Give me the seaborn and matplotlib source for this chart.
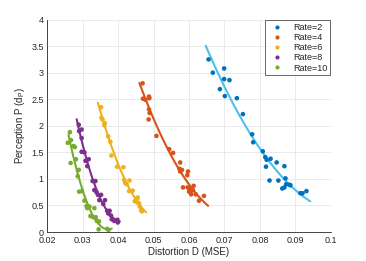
import numpy as np
import pandas as pd
import matplotlib
matplotlib.use("Agg")
import matplotlib.pyplot as plt
import seaborn as sns

rate_labels = ["Rate=2", "Rate=4", "Rate=6", "Rate=8", "Rate=10"]

r2_x = [0.0655, 0.0667, 0.0699, 0.0687, 0.0699, 0.0714, 0.0701, 0.0735, 0.0752, 0.0778,
        0.0781, 0.0808, 0.0815, 0.0817, 0.0819, 0.0830, 0.0847, 0.0869, 0.0827, 0.0852,
        0.0872, 0.0874, 0.0863, 0.0869, 0.0883, 0.0886, 0.0914, 0.0931, 0.0920]
r2_y = [3.25, 3.00, 3.08, 2.69, 2.88, 2.86, 2.56, 2.52, 2.22, 1.84,
        1.69, 1.52, 1.41, 1.23, 1.36, 1.38, 1.31, 1.24, 0.97, 0.97,
        1.01, 0.90, 0.82, 0.84, 0.89, 0.88, 0.73, 0.77, 0.73]

r4_x = [0.0469, 0.0470, 0.0477, 0.0487, 0.0488, 0.0487, 0.0489, 0.0486, 0.0508, 0.0544,
        0.0555, 0.0575, 0.0573, 0.0575, 0.0580, 0.0597, 0.0595, 0.0583, 0.0596, 0.0601,
        0.0605, 0.0606, 0.0613, 0.0619, 0.0628, 0.0642, 0.0600, 0.0611]
r4_y = [2.80, 2.51, 2.49, 2.55, 2.52, 2.31, 2.24, 2.12, 1.81, 1.56,
        1.49, 1.31, 1.19, 1.14, 1.17, 1.14, 1.07, 0.84, 0.84, 0.82,
        0.76, 0.71, 0.87, 0.71, 0.59, 0.68, 0.76, 0.79]

r6_x = [0.0352, 0.0353, 0.0356, 0.0362, 0.0361, 0.0372, 0.0378, 0.0381, 0.0397, 0.0415,
        0.0417, 0.0432, 0.0420, 0.0424, 0.0431, 0.0441, 0.0447, 0.0454, 0.0454, 0.0459,
        0.0461, 0.0465, 0.0467, 0.0455]
r6_y = [2.35, 2.15, 2.12, 2.05, 2.01, 1.80, 1.70, 1.44, 1.23, 1.22,
        0.98, 0.97, 0.92, 0.90, 0.77, 0.78, 0.58, 0.63, 0.56, 0.54,
        0.48, 0.41, 0.39, 0.65]

r8_x = [0.0289, 0.0290, 0.0297, 0.0297, 0.0297, 0.0305, 0.0308, 0.0317, 0.0313, 0.0328,
        0.0336, 0.0333, 0.0339, 0.0343, 0.0352, 0.0347, 0.0363, 0.0358, 0.0369, 0.0376,
        0.0372, 0.0380, 0.0382, 0.0389, 0.0398, 0.0399]
r8_y = [2.02, 1.90, 1.93, 1.77, 1.51, 1.50, 1.34, 1.37, 1.24, 0.96,
        0.96, 0.79, 0.75, 0.70, 0.70, 0.60, 0.60, 0.53, 0.40, 0.40,
        0.35, 0.31, 0.24, 0.21, 0.23, 0.18]

r10_x = [0.0264, 0.0258, 0.0267, 0.0274, 0.0278, 0.0266, 0.0281, 0.0289, 0.0286, 0.0290,
         0.0298, 0.0305, 0.0311, 0.0313, 0.0319, 0.0333, 0.0322, 0.0330, 0.0337, 0.0340,
         0.0346, 0.0345, 0.0369, 0.0373]
r10_y = [1.88, 1.68, 1.73, 1.62, 1.60, 1.30, 1.37, 1.17, 1.05, 0.76,
         0.77, 0.59, 0.49, 0.45, 0.48, 0.45, 0.30, 0.28, 0.28, 0.21,
         0.20, 0.05, 0.06, 0.04]

# x-range spanned by each fitted curve
fit_lo = [0.0647, 0.0460, 0.0343, 0.0283, 0.0260]
fit_hi = [0.0942, 0.0654, 0.0479, 0.0405, 0.0382]

point_colors = ["#0072BD", "#D95319", "#EDB120", "#7E2F8E", "#77AC30"]
line_colors = ["#4DBEEE", "#D95319", "#EDB120", "#7E2F8E", "#77AC30"]

xs = [r2_x, r4_x, r6_x, r8_x, r10_x]
ys = [r2_y, r4_y, r6_y, r8_y, r10_y]

sns.set_style("white")
plt.rcParams["font.family"] = ["Liberation Sans", "DejaVu Sans"]
plt.rcParams["mathtext.fontset"] = "custom"
plt.rcParams["mathtext.rm"] = "Liberation Sans"

fig = plt.figure(figsize=(3.66, 2.61), dpi=100)
ax = fig.add_axes([0.129, 0.111, 0.775, 0.814])

frames = []
for lab, x, y in zip(rate_labels, xs, ys):
    frames.append(pd.DataFrame({"D": x, "P": y, "Rate": lab}))
df = pd.concat(frames, ignore_index=True)

for lab, x, y, lo, hi, lc in zip(rate_labels, xs, ys, fit_lo, fit_hi, line_colors):
    coef = np.polyfit(x, y, 2)
    xf = np.linspace(lo, hi, 100)
    sns.lineplot(x=xf, y=np.polyval(coef, xf), ax=ax, color=lc, lw=1.5, legend=False, zorder=2)

sns.scatterplot(data=df, x="D", y="P", hue="Rate", hue_order=rate_labels,
                palette=point_colors, s=11, linewidth=0, ax=ax, zorder=3)

ax.set_xlim(0.02, 0.1)
ax.set_ylim(0, 4)
ax.set_xticks(np.arange(0.02, 0.1001, 0.01))
ax.set_xticklabels(["0.02", "0.03", "0.04", "0.05", "0.06", "0.07", "0.08", "0.09", "0.1"])
ax.set_yticks(np.arange(0, 4.01, 0.5))
ax.set_yticklabels(["0", "0.5", "1", "1.5", "2", "2.5", "3", "3.5", "4"])
ax.grid(True, color="#e6e6e6", lw=0.6)
ax.set_axisbelow(True)
for s in ["top", "right"]:
    ax.spines[s].set_visible(False)
for s in ["left", "bottom"]:
    ax.spines[s].set_color("#262626")
    ax.spines[s].set_linewidth(0.6)
ax.tick_params(direction="in", length=2.5, width=0.6, colors="#262626", labelsize=6.5,
               labelcolor="#262626")
ax.tick_params(axis="x", pad=3)
ax.tick_params(axis="y", pad=2.5)
ax.set_xlabel("Distortion D (MSE)", fontsize=7, color="#262626", labelpad=1)
ax.set_ylabel("Perception P (d$_{\\mathregular{P}}$)", fontsize=7, color="#262626", labelpad=3)

leg = ax.legend(loc="upper right", fontsize=6.5, frameon=True, fancybox=False,
                borderaxespad=0.1, handletextpad=0.8, markerscale=0.9,
                labelspacing=0.12, borderpad=0.3, handlelength=2.0)
leg.get_frame().set_edgecolor("#262626")
leg.get_frame().set_linewidth(0.6)
for t in leg.get_texts():
    t.set_color("#262626")

fig.savefig("out.png", dpi=100)
